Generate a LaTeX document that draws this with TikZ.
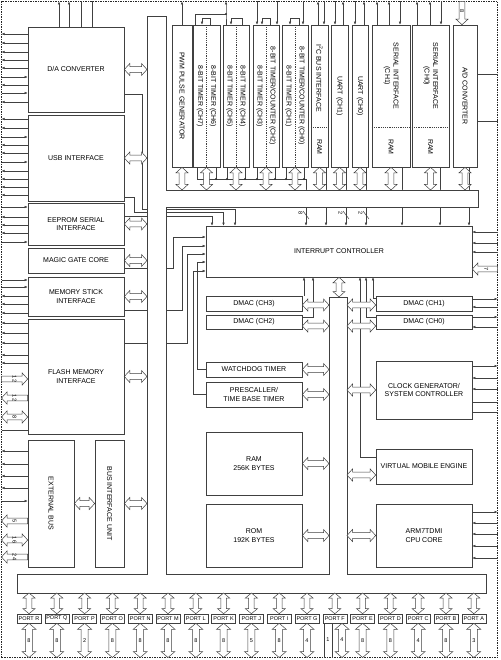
\documentclass[tikz,border=0pt]{standalone}
\usepackage{fontspec}
\setmainfont{Liberation Sans}
\usetikzlibrary{arrows.meta,calc,positioning}

% hollow bus arrows: #1/#2 head lengths (0 = flat end), #3 -> #4
\newcommand\busw{2.8}
\newcommand\bushw{6}
\newcommand\hbus[4]{%
  \pgfmathsetmacro\lhw{#1>0 ? \bushw : \busw}%
  \pgfmathsetmacro\rhw{#2>0 ? \bushw : \busw}%
  \draw[hollow] let \p1=(#3), \p2=(#4) in
    (\x1,\y1) -- (\x1+#1*1pt,\y1+\lhw*1pt) -- (\x1+#1*1pt,\y1+\busw*1pt)
    -- (\x2-#2*1pt,\y1+\busw*1pt) -- (\x2-#2*1pt,\y1+\rhw*1pt) -- (\x2,\y1)
    -- (\x2-#2*1pt,\y1-\rhw*1pt) -- (\x2-#2*1pt,\y1-\busw*1pt)
    -- (\x1+#1*1pt,\y1-\busw*1pt) -- (\x1+#1*1pt,\y1-\lhw*1pt) -- cycle;}
\newcommand\vbus[4]{%
  \pgfmathsetmacro\thw{#1>0 ? \bushw : \busw}%
  \pgfmathsetmacro\bhw{#2>0 ? \bushw : \busw}%
  \draw[hollow] let \p1=(#3), \p2=(#4) in
    (\x1,\y1) -- (\x1+\thw*1pt,\y1-#1*1pt) -- (\x1+\busw*1pt,\y1-#1*1pt)
    -- (\x1+\busw*1pt,\y2+#2*1pt) -- (\x1+\bhw*1pt,\y2+#2*1pt) -- (\x1,\y2)
    -- (\x1-\bhw*1pt,\y2+#2*1pt) -- (\x1-\busw*1pt,\y2+#2*1pt)
    -- (\x1-\busw*1pt,\y1-#1*1pt) -- (\x1-\thw*1pt,\y1-#1*1pt) -- cycle;}

\begin{document}
\begin{tikzpicture}[
  x=1pt, y=-1pt,
  blk/.style={draw=black!75, fill=white, line width=0.6pt, inner sep=1pt,
    align=center, font=\fontsize{7}{8.5}\selectfont},
  vlbl/.style={rotate=-90, align=center, inner sep=0pt,
    font=\fontsize{7}{8.5}\selectfont},
  port/.style={blk, minimum width=24, minimum height=9, inner sep=0pt,
    font=\fontsize{5.5}{6}\selectfont},
  num/.style={inner sep=0pt, font=\fontsize{5.5}{6}\selectfont},
  sig/.style={draw=black!75, line width=0.5pt},
  sigin/.style={sig, -{Latex[length=3pt,width=2.6pt]}},
  sigout/.style={sig, {Latex[length=3pt,width=2.6pt]}-},
  hollow/.style={draw=black!75, fill=white, line width=0.5pt},
  busline/.style={draw=black!75, fill=white, line width=0.6pt},
  dot/.style={circle, fill=black!80, inner sep=0pt, minimum size=2.2pt},
  divider/.style={draw=black!75, line width=0.5pt, dash pattern=on 1.2pt off 1pt},
  chipframe/.style={draw=black!85, line width=1.1pt, dash pattern=on 1.5pt off 1pt,
    minimum width=496, minimum height=656, inner sep=0pt, outer sep=0pt}
]
\useasboundingbox (0,0) rectangle (500,660);
\node[chipframe] (chip) at (249.5,329.5) {};

%% --- bus edges ---
\coordinate (lbarL) at (147,0);
\coordinate (cbarL) at (329,0);
\coordinate (cbarR) at (347,0);
\coordinate (tbarT) at (0,190);
\coordinate (cbarT) at (0,297);
\coordinate (bbarB) at (0,593);
\coordinate (tbus)  at (306,179);
\coordinate (tj)    at (226,14);

%% --- left column ---
\node[blk, minimum width=96, minimum height=85]  (da)     at (76,69.5)  {D/A CONVERTER};
\node[blk, minimum width=96, minimum height=86]  (usb)    at (76,158)   {USB INTERFACE};
\node[blk, minimum width=96, minimum height=42]  (eeprom) at (76,224)   {EEPROM SERIAL\\INTERFACE};
\node[blk, minimum width=96, minimum height=25]  (magic)  at (76,260.5) {MAGIC GATE CORE};
\node[blk, minimum width=96, minimum height=39]  (mstick) at (76,296.5) {MEMORY STICK\\INTERFACE};
\node[blk, minimum width=96, minimum height=115] (flash)  at (76,376.5) {FLASH MEMORY\\INTERFACE};
\node[blk, minimum width=46, minimum height=127] (extbus) at (51,503.5) {};
\node[blk, minimum width=29, minimum height=127] (biu)    at (109.5,503.5) {};
\node[vlbl] at (extbus) {EXTERNAL BUS};
\node[vlbl] at (biu) {BUS INTERFACE UNIT};

%% --- top row ---
\node[blk, minimum width=20, minimum height=142] (pwm)   at (182,96)   {};
\node[blk, minimum width=27, minimum height=142] (tmr76) at (206.5,96) {};
\node[blk, minimum width=26, minimum height=142] (tmr54) at (236,96)   {};
\node[blk, minimum width=26, minimum height=142] (tmr32) at (266,96)   {};
\node[blk, minimum width=26, minimum height=142] (tmr10) at (295,96)   {};
\node[blk, minimum width=17, minimum height=142] (i2c)   at (319.5,96) {};
\node[blk, minimum width=17, minimum height=142] (uart1) at (339.5,96) {};
\node[blk, minimum width=16, minimum height=142] (uart0) at (360,96)   {};
\node[blk, minimum width=38, minimum height=142] (si1)   at (391,96)   {};
\node[blk, minimum width=37, minimum height=142] (si0)   at (430.5,96) {};
\node[blk, minimum width=24, minimum height=142] (adc)   at (465,96)   {};
\foreach \t in {tmr76,tmr54,tmr32,tmr10}
  \draw[divider] (\t.north) -- (\t.south);
\foreach \t in {i2c,si1,si0}
  \draw[divider] (\t.west |- 0,127) -- (\t.east |- 0,127);
\node[vlbl] at (pwm) {PWM PULSE GENERATOR};
\node[vlbl] at ($(tmr76.center)+(-6.5,0)$) {8-BIT TIMER (CH7)};
\node[vlbl] at ($(tmr76.center)+(6.5,0)$)  {8-BIT TIMER (CH6)};
\node[vlbl] at ($(tmr54.center)+(-6.5,0)$) {8-BIT TIMER (CH5)};
\node[vlbl] at ($(tmr54.center)+(6.5,0)$)  {8-BIT TIMER (CH4)};
\node[vlbl] at ($(tmr32.center)+(-6.5,0)$) {8-BIT TIMER (CH3)};
\node[vlbl] at ($(tmr32.center)+(6.5,0)$)  {8-BIT TIMER/COUNTER (CH2)};
\node[vlbl] at ($(tmr10.center)+(-6.5,0)$) {8-BIT TIMER (CH1)};
\node[vlbl] at ($(tmr10.center)+(6.5,0)$)  {8-BIT TIMER/COUNTER (CH0)};
\node[vlbl] at (i2c.center |- 0,78)  {I\textsuperscript{2}C BUS INTERFACE};
\node[vlbl] at (i2c.center |- 0,147) {RAM};
\node[vlbl] at (uart1) {UART (CH1)};
\node[vlbl] at (uart0) {UART (CH0)};
\node[vlbl] at (si1.center |- 0,76)  {SERIAL INTERFACE\\(CH1)};
\node[vlbl] at (si1.center |- 0,147) {RAM};
\node[vlbl] at (si0.center |- 0,76)  {SERIAL INTERFACE\\(CH0)};
\node[vlbl] at (si0.center |- 0,147) {RAM};
\node[vlbl] at (adc) {A/D CONVERTER};

%% --- centre ---
\node[blk, minimum width=266, minimum height=51] (ic)    at (339,251.5) {INTERRUPT CONTROLLER};
\node[blk, minimum width=96, minimum height=15]  (dmac3) at (254,303.5) {DMAC (CH3)};
\node[blk, minimum width=96, minimum height=14]  (dmac2) at (254,322)   {DMAC (CH2)};
\node[blk, minimum width=96, minimum height=15]  (wdt)   at (254,369.5) {WATCHDOG TIMER};
\node[blk, minimum width=96, minimum height=25]  (presc) at (254,394.5) {PRESCALLER/\\TIME BASE TIMER};
\node[blk, minimum width=96, minimum height=63]  (ram)   at (254,463.5) {RAM\\256K BYTES};
\node[blk, minimum width=96, minimum height=63]  (rom)   at (254,535.5) {ROM\\192K BYTES};
\node[blk, minimum width=96, minimum height=15]  (dmac1) at (424,303.5) {DMAC (CH1)};
\node[blk, minimum width=96, minimum height=14]  (dmac0) at (424,322)   {DMAC (CH0)};
\node[blk, minimum width=96, minimum height=58]  (clk)   at (424,390)   {CLOCK GENERATOR/\\SYSTEM CONTROLLER};
\node[blk, minimum width=96, minimum height=35]  (vme)   at (424,466.5) {VIRTUAL MOBILE ENGINE};
\node[blk, minimum width=96, minimum height=63]  (cpu)   at (424,535.5) {ARM7TDMI\\CPU CORE};

%% --- ports ---
\foreach \pn [count=\i from 0] in {R,Q,P,O,N,M,L,K,J,I,G,F,E,D,C,B,A}
  \node[port] (p\pn) at ({29+27.8*\i},618.5) {PORT \pn};

%% --- external pins ---
\foreach \py/\pd in {34/sigout,43/sigout,52/sigout,60/sigout,68/sigout,77/sigin,85/sigout,93/sigin,102/sigout}
  \draw[\pd] (chip.west |- 0,\py) -- (da.west |- 0,\py);
\foreach \py/\pd in {119/sigout,128/sigout,137/sigin,145/sigout,153/sigout,162/sigin,171/sigout,179/sigout,187/sigout,195/sigout}
  \draw[\pd] (chip.west |- 0,\py) -- (usb.west |- 0,\py);
\foreach \py/\pd in {207/sigin,217/sigout,225/sigout,233/sigout,242/sigin}
  \draw[\pd] (chip.west |- 0,\py) -- (eeprom.west |- 0,\py);
\foreach \py/\pd in {280/sigin,287/sigin,296/sigout,304/sigout,313/sigout}
  \draw[\pd] (chip.west |- 0,\py) -- (mstick.west |- 0,\py);
\foreach \py/\pd in {323/sigout,333/sigout,343/sigout,355/sigout,363/sigout,430/sig}
  \draw[\pd] (chip.west |- 0,\py) -- (flash.west |- 0,\py);
\foreach \py/\pd in {451/sigout,464/sigout,476/sigout,488/sigout,501/sigin}
  \draw[\pd] (chip.west |- 0,\py) -- (extbus.west |- 0,\py);
\foreach \py/\pd/\pb in {232/sigin/ic,243/sigin/ic,252/sigin/ic,299/sigout/dmac1,307/sigin/dmac1,
    317/sigout/dmac0,327/sigin/dmac0,366/sigout/clk,378/sigin/clk,389/sigin/clk,402/sig/clk,412/sig/clk,
    512/sigout/cpu,523/sigin/cpu,534/sigin/cpu,546/sigin/cpu,558/sigin/cpu,74/sig/adc,121/sig/adc}
  \draw[\pd] (chip.east |- 0,\py) -- (\pb.east |- 0,\py);
\foreach \px/\pd/\pb in {59/sigout/da,69/sigout/da,81/sig/da,92/sig/da,
    182/sigout/pwm,257/sigin/tmr32,277/sigin/tmr32,303/sigin/tmr10,
    318/sigout/i2c,324/sigin/i2c,335/sigin/uart1,343/sigout/uart1,355/sigin/uart0,364/sigout/uart0,
    377/sigout/si1,389/sigout/si1,400/sigin/si1,417/sigout/si0,430/sigout/si0,441/sigin/si0}
  \draw[\pd] (\px,0 |- chip.north) -- (\px,0 |- \pb.north);

%% timer cascade
\draw[sigout] (tj |- chip.north) -- (tj) -- (tj |- tmr54.north);
\draw[sig] (tj) -| (195,0 |- tmr76.north);
\node[dot] at (tj) {};
\draw[sigin] (210,0 |- tmr76.north) |- (202,18) -- (202,0 |- tmr76.north);
\draw[sigin] (242,0 |- tmr54.north) |- (231,18) -- (231,0 |- tmr54.north);
\draw[sigin] (270,0 |- tmr32.north) |- (262,18) -- (262,0 |- tmr32.north);
\draw[sigin] (299,0 |- tmr10.north) |- (290,18) -- (290,0 |- tmr10.north);

%% interrupt requests
\draw[sigin] (197,0 |- tbus) -- (tbus) -- (tbus |- ic.north);
\foreach \px in {216,227,245,257,275,286,304}
  \draw[sig] (\px,0 |- tmr76.south) -- (\px,0 |- tbus) node[dot] {};
\draw[sig] (197,0 |- tmr76.south) -- (197,0 |- tbus);
\foreach \px/\pb in {326/i2c,346/uart1,366/uart0,402/si1,440/si0,469/adc}
  \draw[sigin] (\px,0 |- \pb.south) -- (\px,0 |- ic.north);
\foreach \px/\pw in {306/8,346/2,366/2} {
  \draw[sig] (\px-3,211) -- (\px+3,219);
  \node[num, rotate=-90] at (\px-5.5,213) {\pw};
}
\draw[sigin] (da.east |- 0,94) -| (142,209) -| (235,0 |- ic.north);
\draw[sigin] (usb.east |- 0,197) -| (134,212.5) -| (223.5,0 |- ic.north);
\draw[sigin] (eeprom.east |- 0,216) -| (212,0 |- ic.north);
\draw[sigin] (magic.east |- 0,268) -| (173,237) -- (ic.west |- 0,237);
\draw[sigin] (mstick.east |- 0,310) -| (182,246) -- (ic.west |- 0,246);
\draw[sigin] (flash.east |- 0,343) -| (187,254) -- (ic.west |- 0,254);
\draw[sigin] (wdt.west) -| (197,262) -- (ic.west |- 0,262);
\draw[sigin] (presc.west) -| (193,271) -- (ic.west |- 0,271);
\draw[sigin] (304,0 |- dmac3.north) -- (304,0 |- ic.south);
\draw[sigin] (dmac2.east |- 0,317) -| (313,0 |- ic.south);
\draw[sigin] (dmac1.west |- 0,298) -| (373,0 |- ic.south);
\draw[sigin] (dmac0.west |- 0,317) -| (366,0 |- ic.south);
\draw[sigin] (vme.west |- 0,457) -| (360,0 |- ic.south);

%% --- internal bus ---
\draw[busline] (147,16) -- (166,16) -- (166,190) -- (478,190) -- (478,207) -- (166,207)
  -- (166,574) -- (329,574) -- (329,297) -- (347,297) -- (347,574) -- (486,574)
  -- (486,593) -- (17,593) -- (17,574) -- (147,574) -- cycle;

%% --- bus arrows ---
\foreach \b in {da,usb,eeprom,magic,mstick,flash,biu}
  \hbus{5.5}{5.5}{\b.east}{\b.east -| lbarL};
\hbus{5.5}{5.5}{extbus.east}{extbus.east -| biu.west};
\foreach \b in {pwm,tmr76,tmr54,tmr32,tmr10,i2c,uart1,uart0,si1,si0,adc}
  \vbus{5.5}{5.5}{\b.south}{\b.south |- tbarT};
\vbus{5.5}{5.5}{ic.south}{ic.south |- cbarT};
\hbus{5.5}{5.5}{dmac3.east |- 0,305}{cbarL |- 0,305};
\hbus{5.5}{5.5}{dmac2.east |- 0,326}{cbarL |- 0,326};
\foreach \b in {wdt,presc,ram,rom}
  \hbus{5.5}{5.5}{\b.east}{\b.east -| cbarL};
\hbus{5.5}{5.5}{cbarR |- 0,305}{dmac1.west |- 0,305};
\hbus{5.5}{5.5}{cbarR |- 0,326}{dmac0.west |- 0,326};
\hbus{5.5}{5.5}{clk.west -| cbarR}{clk.west};
\hbus{5.5}{5.5}{cbarR |- 0,475}{vme.west |- 0,475};
\hbus{5.5}{5.5}{cpu.west -| cbarR}{cpu.west};

%% external hollow buses
\hbus{5.5}{0}{ic.east |- 0,269}{chip.east |- 0,269};
\node[num, rotate=-90] at ($(ic.east |- 0,269)!0.55!(chip.east |- 0,269)$) {7};
\vbus{0}{5.5}{462,0 |- chip.north}{462,0 |- adc.north};
\node[num, rotate=-90] at (462,11) {8};
\foreach \py/\pl/\pr/\pw in {379/0/5.5/12,398/5.5/0/12,417/5.5/5.5/8} {
  \hbus{\pl}{\pr}{chip.west |- 0,\py}{flash.west |- 0,\py};
  \node[num, rotate=-90] at ($(chip.west |- 0,\py)!0.5!(flash.west |- 0,\py)$) {\pw};
}
\foreach \py/\pl/\pr/\pw in {521/5.5/0/5,540/5.5/5.5/16,557/5.5/0/24} {
  \hbus{\pl}{\pr}{chip.west |- 0,\py}{extbus.west |- 0,\py};
  \node[num, rotate=-90] at ($(chip.west |- 0,\py)!0.5!(extbus.west |- 0,\py)$) {\pw};
}

%% port buses
\foreach \pn in {R,Q,P,O,N,M,L,K,J,I,G,F,E,D,C,B,A}
  \vbus{5}{5}{p\pn.north |- bbarB}{p\pn.north};
\begin{scope}
\def\busw{3.5}\def\bushw{7}
\foreach \pn/\pw in {R/8,Q/8,P/2,O/8,N/8,M/8,L/8,K/8,J/5,I/8,G/4,E/8,D/8,C/4,B/8,A/3} {
  \vbus{6}{6}{p\pn.south}{p\pn.south |- chip.south};
  \node[num] at ($(p\pn.south)!0.5!(p\pn.south |- chip.south)$) {\pw};
}
\vbus{6}{6}{342,0 |- pF.south}{342,0 |- chip.south};
\node[num] at (342,640) {4};
\end{scope}
\draw[sig] (324,0 |- pF.south) -- (324,0 |- chip.south);
\draw[sig] (332,0 |- pF.south) -- (332,0 |- chip.south);
\node[num] at (328,640) {1};
\end{tikzpicture}
\end{document}
